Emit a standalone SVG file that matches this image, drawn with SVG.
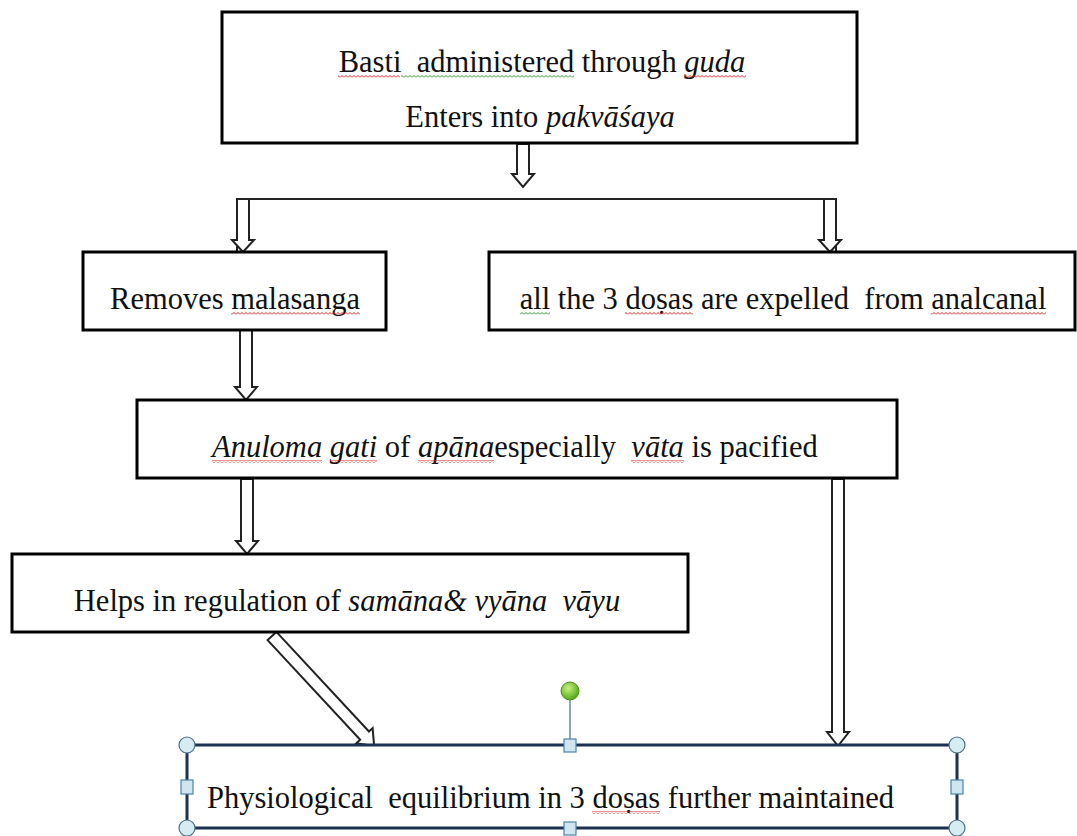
<svg xmlns="http://www.w3.org/2000/svg" width="1077" height="836" viewBox="0 0 1077 836">
<style>
.box{fill:#fff;stroke:#000;stroke-width:3}
.sel{fill:#fff;stroke:#1b3250;stroke-width:3}
.t{font-family:"Liberation Serif",serif;font-size:30.5px;fill:#111;white-space:pre}
.i{font-style:italic}
.ba{fill:#fff;stroke:#222;stroke-width:2;stroke-linejoin:miter}
.ln{stroke:#222;stroke-width:2;fill:none}
.hc{fill:#d4ecf2;stroke:#4d6f86;stroke-width:1.2}
.hs{fill:#cfe6f0;stroke:#4f83a8;stroke-width:1.2}
</style>
<defs>
<pattern id="wr" width="4" height="3" patternUnits="userSpaceOnUse"><path d="M0 2.5 L2 0.5 L4 2.5" stroke="#e02020" stroke-width="1" fill="none"/></pattern>
<pattern id="wg" width="4" height="3" patternUnits="userSpaceOnUse"><path d="M0 2.5 L2 0.5 L4 2.5" stroke="#2a9a2a" stroke-width="1" fill="none"/></pattern>
<radialGradient id="gg" cx="40%" cy="35%" r="60%"><stop offset="0" stop-color="#c8f080"/><stop offset="1" stop-color="#5cae1e"/></radialGradient>
</defs>

<g id="connectors">
  <polygon class="ba" points="517,144 529,144 529,174 534,174 523,187 512,174 517,174"/>
  <polyline class="ln" points="237,252 237,199 836,199 836,252"/>
  <polygon class="ba" points="237,199 249,199 249,240 254,240 243,252 232,240 237,240"/>
  <polygon class="ba" points="824,199 836,199 836,240 841,240 830,252 819,240 824,240"/>
  <polygon class="ba" points="240,330 252,330 252,387 257,387 246,400 235,387 240,387"/>
  <polygon class="ba" points="241,479 253,479 253,541 258,541 247,554 236,541 241,541"/>
  <polygon class="ba" points="832,479 844,479 844,732 849,732 838,746 827,732 832,732"/>
  <g transform="translate(272,636) rotate(47.1)">
    <polygon class="ba" points="0,-6 136,-6 136,-11 150,0 136,11 136,6 0,6"/>
  </g>
</g>

<g id="n1">
  <rect class="box" x="222" y="12" width="635" height="131"/>
  <text class="t" font-family="Liberation Serif, serif" x="542" y="72" text-anchor="middle">Basti  administered through <tspan class="i">guda</tspan></text>
  <text class="t" font-family="Liberation Serif, serif" x="540" y="127" text-anchor="middle">Enters into <tspan class="i">pakvāśaya</tspan></text>
  <rect x="338" y="75" width="62" height="3" fill="url(#wr)"/>
  <rect x="401" y="75" width="173" height="3" fill="url(#wg)"/>
  <rect x="684" y="75" width="62" height="3" fill="url(#wr)"/>
</g>

<g id="n2">
  <rect class="box" x="83" y="252" width="303" height="78"/>
  <text class="t" font-family="Liberation Serif, serif" x="235" y="309" text-anchor="middle">Removes malasanga</text>
  <rect x="231" y="312" width="129" height="3" fill="url(#wr)"/>
</g>

<g id="n3">
  <rect class="box" x="489" y="252" width="586" height="78"/>
  <text class="t" font-family="Liberation Serif, serif" x="783" y="309" text-anchor="middle">all the 3 doṣas are expelled  from analcanal</text>
  <rect x="520" y="312" width="30" height="3" fill="url(#wg)"/>
  <rect x="625" y="312" width="68" height="3" fill="url(#wr)"/>
  <rect x="931" y="312" width="115" height="3" fill="url(#wr)"/>
</g>

<g id="n4">
  <rect class="box" x="137" y="400" width="760" height="78"/>
  <text class="t" font-family="Liberation Serif, serif" x="212" y="457"><tspan class="i">Anuloma gati</tspan> of <tspan class="i">apāna</tspan>especially  <tspan class="i">vāta</tspan> is pacified</text>
  <rect x="212" y="460" width="110" height="3" fill="url(#wr)"/>
  <rect x="330" y="460" width="47" height="3" fill="url(#wr)"/>
  <rect x="418" y="460" width="76" height="3" fill="url(#wr)"/>
  <rect x="631" y="460" width="53" height="3" fill="url(#wr)"/>
</g>

<g id="n5">
  <rect class="box" x="12" y="554" width="676" height="78"/>
  <text class="t" font-family="Liberation Serif, serif" x="347" y="611" text-anchor="middle">Helps in regulation of <tspan class="i">samāna&amp; vyāna  vāyu</tspan></text>
</g>

<g id="n6">
  <line x1="570" y1="700" x2="570" y2="739" stroke="#6b8aa3" stroke-width="1.5"/>
  <circle cx="570" cy="691" r="9" fill="url(#gg)" stroke="#4c8a20" stroke-width="1"/>
  <rect class="sel" x="187" y="745" width="770" height="83"/>
  <text class="t" font-family="Liberation Serif, serif" x="207" y="808">Physiological  equilibrium in 3 doṣas further maintained</text>
  <rect x="592" y="811" width="68" height="3" fill="url(#wr)"/>
  <circle class="hc" cx="187" cy="745" r="8"/>
  <circle class="hc" cx="957" cy="745" r="8"/>
  <circle class="hc" cx="187" cy="828" r="8"/>
  <circle class="hc" cx="957" cy="828" r="8"/>
  <rect class="hs" x="564" y="739" width="12" height="13"/>
  <rect class="hs" x="564" y="822" width="12" height="13"/>
  <rect class="hs" x="181" y="780" width="12" height="14"/>
  <rect class="hs" x="951" y="780" width="12" height="14"/>
</g>
</svg>
